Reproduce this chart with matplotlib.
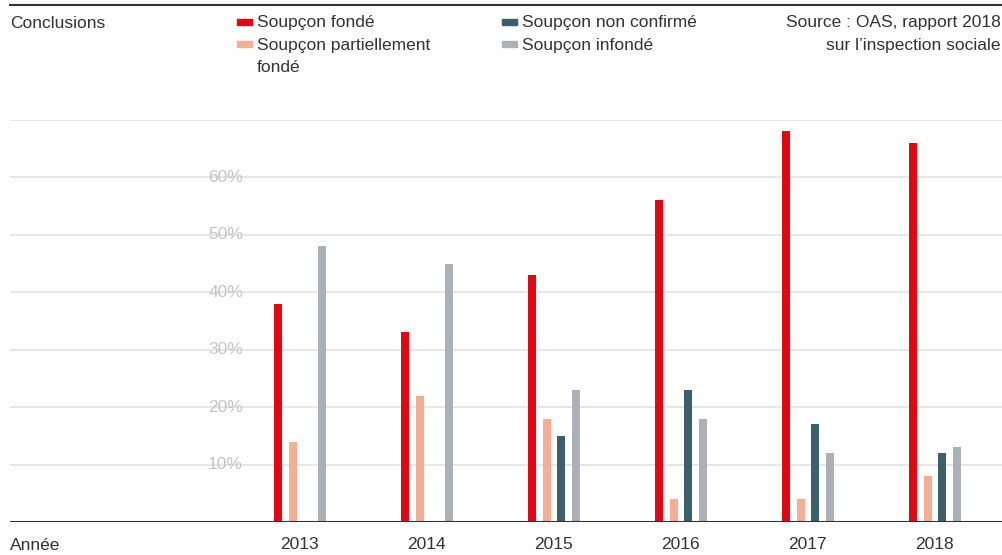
import numpy as np
import matplotlib
matplotlib.use('Agg')
import matplotlib.pyplot as plt
from matplotlib.patches import Rectangle
from matplotlib.lines import Line2D
from matplotlib.transforms import blended_transform_factory

plt.rcParams['font.family'] = ['Liberation Sans', 'DejaVu Sans']

# data
years = ['2013', '2014', '2015', '2016', '2017', '2018']
fonde = [38, 33, 43, 56, 68, 66]
partiel = [14, 22, 18, 4, 4, 8]
non_confirme = [0, 0, 15, 23, 17, 12]
infonde = [48, 45, 23, 18, 12, 13]
y_ticks = [10, 20, 30, 40, 50, 60]

series = [
    ('Soupçon fondé', fonde, '#e30613'),
    ('Soupçon partiellement\nfondé', partiel, '#f5ae94'),
    ('Soupçon non confirmé', non_confirme, '#3d5f6a'),
    ('Soupçon infondé', infonde, '#aab1b9'),
]

W, H = 1003, 555
fig = plt.figure(figsize=(W / 100, H / 100), dpi=100)

def fx(px):
    return px / W

def fy(py):
    return 1 - py / H

ax = fig.add_axes([fx(10), fy(522), fx(993), (522 - 120) / H])

x = np.arange(len(years))
offsets = [-1.5, -0.5, 0.5, 1.5]
step = 0.116
bw = 0.063
for (name, vals, col), off in zip(series, offsets):
    ax.bar(x + off * step, vals, width=bw, color=col, zorder=3)

ax.set_xlim(-2.283, 5.536)
ax.set_ylim(0, 70)

# grid
for v in y_ticks + [70]:
    ax.axhline(v, color='#e3e3e3', lw=1.2, zorder=1)
ax.axhline(0, color='#333333', lw=1.5, zorder=4)

tr = blended_transform_factory(ax.transAxes, ax.transData)
for v in y_ticks:
    ax.text((243 - 10) / 993, v, f'{v}%', transform=tr, ha='right', va='center',
            fontsize=12.5, color='#c4c4c4')

ax.set_xticks(x)
ax.set_xticklabels(years, fontsize=12.5, color='#333333')
ax.tick_params(axis='x', length=0, pad=11)
ax.set_yticks([])
for s in ax.spines.values():
    s.set_visible(False)

# top rule
fig.add_artist(Line2D([fx(10), 1], [fy(5), fy(5)], color='#333333', lw=1.5))

txt = dict(fontsize=12.5, color='#333333', va='center')
fig.text(fx(10), fy(23), 'Conclusions', **txt)
fig.text(fx(10), fy(545), 'Année', **txt)
fig.text(fx(1001), fy(23), 'Source : OAS, rapport 2018', ha='right', **txt)
fig.text(fx(1001), fy(45), 'sur l\u2019inspection sociale', ha='right', **txt)

# legend
leg_pos = [(237, 22), (237, 44), (502, 22), (502, 44)]
for (name, vals, col), (lx, ly) in zip(series, leg_pos):
    fig.add_artist(Rectangle((fx(lx), fy(ly + 2.5)), fx(15), 5 / H, color=col,
                             transform=fig.transFigure))
    for k, line in enumerate(name.split('\n')):
        fig.text(fx(lx + 20), fy(ly + 1 + 22 * k), line, **txt)

fig.savefig('out.png', dpi=100)
